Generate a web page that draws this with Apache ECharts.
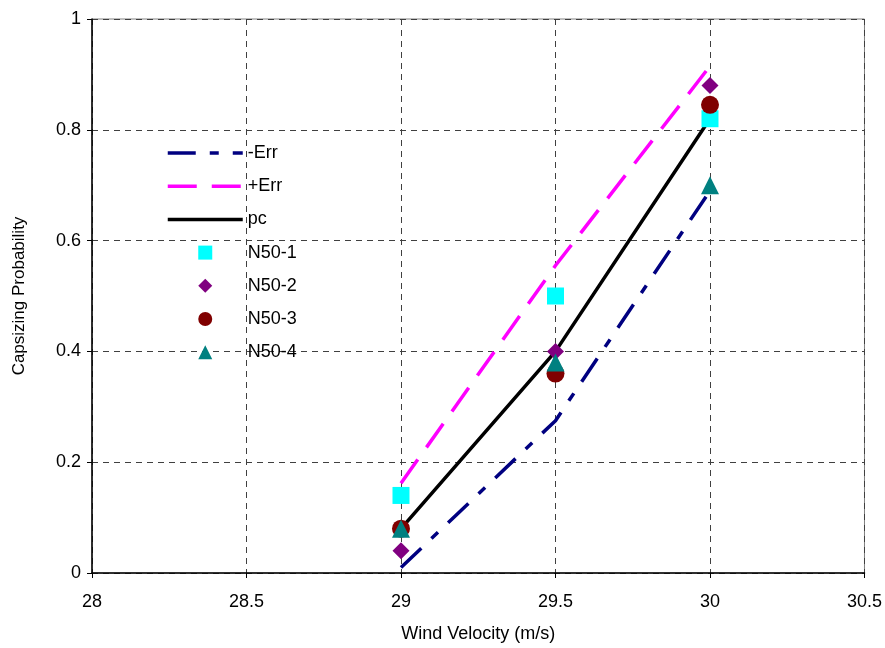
<!DOCTYPE html>
<html><head><meta charset="utf-8">
<script src="https://cdn.jsdelivr.net/npm/echarts@6/dist/echarts.min.js"></script>
<style>html,body{margin:0;padding:0;background:#fff}#c{width:885px;height:648px}</style>
</head><body><div id="c"></div>
<script>
const xValues = [29, 29.5, 30];
const errMinus = [0.01, 0.275, 0.69];
const errPlus = [0.162, 0.555, 0.915];
const pc = [0.08, 0.40, 0.82];
const n50_1 = [0.14, 0.50, 0.82];
const n50_2 = [0.04, 0.40, 0.88];
const n50_3 = [0.08, 0.36, 0.845];
const n50_4 = [0.08, 0.38, 0.70];

const pts = arr => xValues.map((x, i) => [x, arr[i]]);
const font = 'Liberation Sans, Arial, sans-serif';
const FS = 18;
const chart = echarts.init(document.getElementById('c'));
const lineS = (name, data, color, type, z) => ({
  name, type: 'line', data: pts(data), symbol: 'none', z,
  lineStyle: {color, width: 3.5, type}, itemStyle: {color}
});
const scat = (name, data, color, symbol, size) => ({
  name, type: 'scatter', data: pts(data), symbol, symbolSize: size, z: 5,
  itemStyle: {color, opacity: 1}
});
const hid = {opacity: 0};
const icons = {
  rect: 'path://M0,0H10V10H0Z',
  diamond: 'path://M5,0L10,5L5,10L0,5Z',
  circle: 'path://M5,0A5,5 0 1,1 4.99,0Z',
  triangle: 'path://M5,0L10,10H0Z'
};
chart.setOption({
  animation: false,
  backgroundColor: '#fff',
  textStyle: {fontFamily: font},
  grid: {left: 92, right: 20, top: 19, bottom: 75, show: true, borderColor: '#808080', borderWidth: 1},
  xAxis: {
    type: 'value', min: 28, max: 30.5, interval: 0.5,
    name: 'Wind Velocity (m/s)', nameLocation: 'middle', nameGap: 52,
    nameTextStyle: {fontSize: FS, color: '#000', fontFamily: font},
    axisLine: {lineStyle: {color: '#000', width: 1.5}},
    axisTick: {show: true, length: 5, lineStyle: {color: '#000'}},
    axisLabel: {fontSize: FS, color: '#000', margin: 20, fontFamily: font},
    splitLine: {show: true, lineStyle: {color: '#404040', type: [6, 5], width: 1}}
  },
  yAxis: {
    type: 'value', min: 0, max: 1, interval: 0.2,
    name: 'Capsizing Probability', nameLocation: 'middle', nameGap: 64,
    nameTextStyle: {fontSize: 17, color: '#000', fontFamily: font},
    axisLine: {show: true, lineStyle: {color: '#000', width: 1.5}},
    axisTick: {show: true, length: 5, lineStyle: {color: '#000'}},
    axisLabel: {fontSize: FS, color: '#000', margin: 11, fontFamily: font,
      formatter: v => String(Math.round(v * 10) / 10)},
    splitLine: {show: true, lineStyle: {color: '#404040', type: [6, 5], width: 1}}
  },
  legend: {
    orient: 'vertical', left: 161, top: 139, itemWidth: 75, itemHeight: 14, itemGap: 15.2,
    symbolKeepAspect: true,
    lineStyle: {width: 3.5},
    textStyle: {fontSize: FS, color: '#000', fontFamily: font},
    data: [{name: '-Err', itemStyle: hid}, {name: '+Err', itemStyle: hid}, {name: 'pc', itemStyle: hid},
      {name: 'N50-1', icon: icons.rect}, {name: 'N50-2', icon: icons.diamond},
      {name: 'N50-3', icon: icons.circle}, {name: 'N50-4', icon: icons.triangle}]
  },
  series: [
    lineS('-Err', errMinus, '#000080', [28, 14, 9, 14], 2),
    lineS('+Err', errPlus, '#FF00FF', [29, 15], 2),
    lineS('pc', pc, '#000000', 'solid', 3),
    scat('N50-1', n50_1, '#00FFFF', 'rect', 17),
    scat('N50-2', n50_2, '#800080', 'diamond', 17),
    scat('N50-3', n50_3, '#800000', 'circle', 18),
    scat('N50-4', n50_4, '#008080', 'triangle', 18)
  ]
});
</script></body></html>
